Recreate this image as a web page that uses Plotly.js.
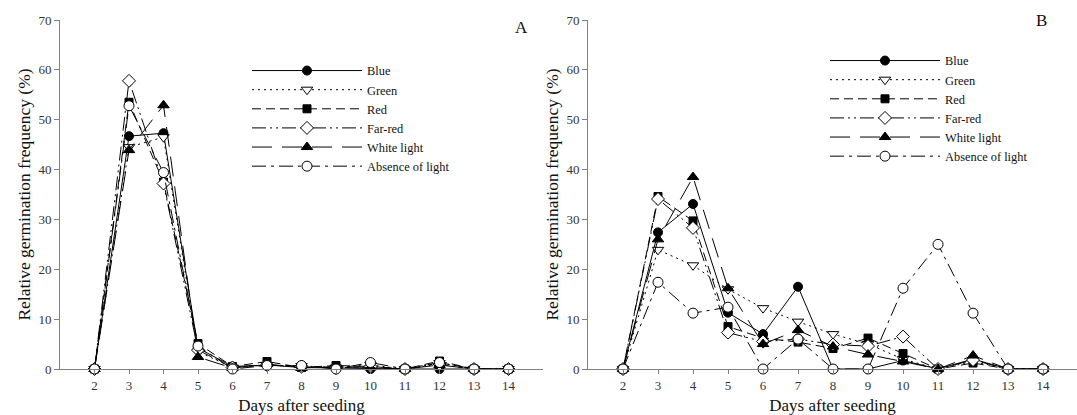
<!DOCTYPE html>
<html>
<head>
<meta charset="utf-8">
<script src="https://cdn.plot.ly/plotly-3.0.1.min.js"></script>
<style>html,body{margin:0;padding:0;background:#fff;}#chart{width:1077px;height:415px;}</style>
</head>
<body>
<div id="chart"></div>
<script>
// ---- data ----
const days = [2, 3, 4, 5, 6, 7, 8, 9, 10, 11, 12, 13, 14];
const seriesNames = ["Blue", "Green", "Red", "Far-red", "White light", "Absence of light"];
const yTicks = [0, 10, 20, 30, 40, 50, 60, 70];

// Panel A
const A_blue     = [0, 46.7, 47.3, 4.2, 0.5, 0.8, 0.3, 0.2, 0.0, 0, 0.0, 0, 0];
const A_green    = [0, 44.5, 46.5, 3.5, 0.3, 0.8, 0.6, 0.3, 0.8, 0, 1.2, 0, 0];
const A_red      = [0, 53.5, 37.5, 5.1, 0.5, 1.5, 0.3, 0.7, 0.5, 0, 1.6, 0, 0];
const A_farred   = [0, 57.8, 37.2, 3.8, 0.3, 0.8, 0.5, 0.2, 0.5, 0, 1.0, 0, 0];
const A_white    = [0, 43.9, 52.9, 2.4, 0.2, 1.0, 0.2, 0.5, 0.3, 0, 0.8, 0, 0];
const A_dark     = [0, 52.8, 39.4, 4.6, 0.0, 0.7, 0.7, 0.0, 1.3, 0, 1.3, 0, 0];

// Panel B
const B_blue     = [0, 27.4, 33.1, 11.3, 7.0, 16.5, 0.0, 0.0, 1.7, 0, 2.0, 0, 0];
const B_green    = [0, 23.9, 20.8, 16.0, 12.2, 9.5, 7.0, 5.0, 2.0, 0, 1.5, 0, 0];
const B_red      = [0, 34.6, 29.7, 8.5, 6.2, 5.4, 4.1, 6.2, 3.1, 0, 1.2, 0, 0];
const B_farred   = [0, 34.1, 28.3, 7.3, 5.5, 6.0, 4.9, 4.6, 6.5, 0, 1.8, 0, 0];
const B_white    = [0, 26.0, 38.5, 16.2, 5.0, 7.8, 4.5, 2.9, 1.5, 0, 2.7, 0, 0];
const B_dark     = [0, 17.4, 11.2, 12.4, 0.0, 6.0, 0.0, 0.0, 16.2, 25.0, 11.2, 0, 0];

// ---- styles ----
const styles = [
  {dash: "solid",                         symbol: "circle",        fill: "#000", size: 9},
  {dash: "2px,4px",                       symbol: "triangle-down", fill: "#fff", size: 10},
  {dash: "9px,5px",                       symbol: "square",        fill: "#000", size: 8},
  {dash: "14px,4px,2px,4px,2px,4px",      symbol: "diamond",       fill: "#fff", size: 10},
  {dash: "20px,10px",                     symbol: "triangle-up",   fill: "#000", size: 10},
  {dash: "14px,5px,3px,5px",              symbol: "circle",        fill: "#fff", size: 10}
];

const font = "Liberation Serif, Times New Roman, serif";
const A_sets = [A_blue, A_green, A_red, A_farred, A_white, A_dark];
const B_sets = [B_blue, B_green, B_red, B_farred, B_white, B_dark];

function mk(vals, i, xa, ya, leg) {
  const s = styles[i];
  return {
    x: days, y: vals, type: "scatter", mode: "lines+markers",
    name: seriesNames[i], xaxis: xa, yaxis: ya, legend: leg,
    line: {color: "#000", width: 1, dash: s.dash},
    marker: {symbol: s.symbol, size: s.size, color: s.fill, line: {color: "#000", width: 1}},
    cliponaxis: false
  };
}

const traces = [];
A_sets.forEach((v, i) => traces.push(mk(v, i, "x", "y", "legend")));
B_sets.forEach((v, i) => traces.push(mk(v, i, "x2", "y2", "legend2")));

const W = 1077, H = 415;
const px = v => v / W, py = v => 1 - v / H;

function xaxisDef(d, r, anchor) {
  return {
    domain: d, range: r, tickvals: days, ticktext: days.map(String), anchor: anchor,
    showline: true, linecolor: "#808080", linewidth: 1,
    ticks: "outside", ticklen: 4, tickcolor: "#808080",
    showgrid: false, zeroline: false,
    tickfont: {family: font, size: 13, color: "#333"},
    title: {text: "Days after seeding", font: {family: font, size: 17, color: "#111"}, standoff: 7}
  };
}
function yaxisDef(anchor) {
  return {
    domain: [py(369), py(20)], range: [0, 70], tickvals: yTicks,
    showline: true, linecolor: "#808080", linewidth: 1,
    ticks: "outside", ticklen: 5, tickcolor: "#808080",
    showgrid: false, zeroline: false, anchor: anchor,
    tickfont: {family: font, size: 13, color: "#333"},
    title: {text: "Relative germination frequency (%)", font: {family: font, size: 17.5, color: "#111"}, standoff: 3}
  };
}

const legendFont = {family: font, size: 12.4, color: "#111"};

const layout = {
  width: W, height: H,
  margin: {l: 0, r: 0, t: 0, b: 0},
  paper_bgcolor: "#fff", plot_bgcolor: "#fff",
  showlegend: true,
  xaxis: xaxisDef([px(60), px(543)], [1, 15], "y"), yaxis: yaxisDef("x"),
  xaxis2: xaxisDef([px(588), 1], [1, 14.97], "y2"), yaxis2: yaxisDef("x2"),
  legend: {x: px(247), y: py(56), xanchor: "left", yanchor: "top", bgcolor: "rgba(0,0,0,0)",
           font: legendFont, itemwidth: 110, tracegroupgap: 0},
  legend2: {x: px(825), y: py(46), xanchor: "left", yanchor: "top", bgcolor: "rgba(0,0,0,0)",
           font: legendFont, itemwidth: 110, tracegroupgap: 0},
  annotations: [
    {text: "A", x: px(521), y: py(27), xref: "paper", yref: "paper", showarrow: false,
     xanchor: "center", yanchor: "middle", font: {family: font, size: 17, color: "#111"}},
    {text: "B", x: px(1041), y: py(20), xref: "paper", yref: "paper", showarrow: false,
     xanchor: "center", yanchor: "middle", font: {family: font, size: 17, color: "#111"}}
  ]
};

Plotly.newPlot("chart", traces, layout, {displayModeBar: false, staticPlot: true});
</script>
</body>
</html>
